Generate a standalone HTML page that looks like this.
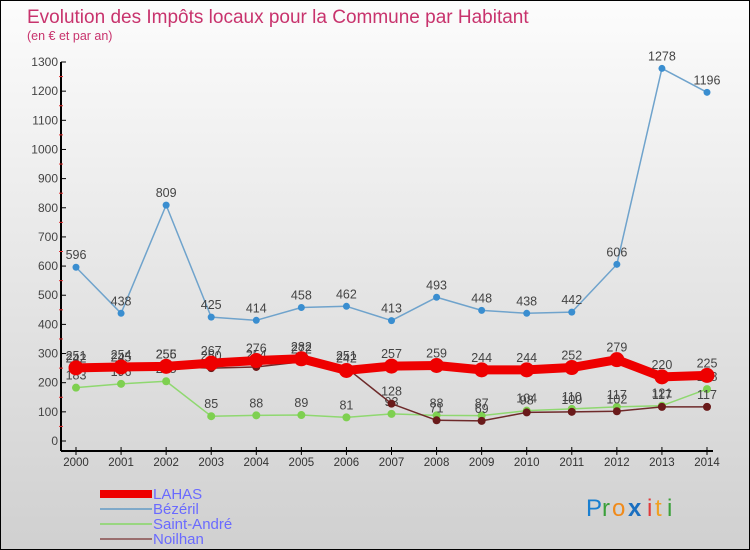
<!DOCTYPE html>
<html><head><meta charset="utf-8"><style>
body{margin:0;}
#wrap{position:relative;width:748px;height:548px;border:1px solid #000;background:linear-gradient(#fcfcfc,#d0d0d0);overflow:hidden;font-family:"Liberation Sans",sans-serif;}
svg text{font-family:"Liberation Sans",sans-serif;}
</style></head><body>
<div id="wrap">
<svg id="chart" width="748" height="548">
<text x="26" y="22" font-size="19" fill="#c8336d">Evolution des Impôts locaux pour la Commune par Habitant</text>
<text x="26" y="39" font-size="12.5" fill="#c8336d">(en € et par an)</text>
<g id="axes"></g><g id="series"></g>
<g>
<rect x="99" y="489" width="52" height="8" fill="#ee0000"/>
<text x="152" y="498" font-size="15" fill="#6a6aff">LAHAS</text>
<line x1="99" y1="508" x2="151" y2="508" stroke="#7fa9c9" stroke-width="2"/>
<text x="152" y="513" font-size="15" fill="#6a6aff">Bézéril</text>
<line x1="99" y1="523" x2="151" y2="523" stroke="#99d680" stroke-width="2"/>
<text x="152" y="528" font-size="15" fill="#6a6aff">Saint-André</text>
<line x1="99" y1="538" x2="151" y2="538" stroke="#9a6e6e" stroke-width="2"/>
<text x="152" y="543" font-size="15" fill="#6a6aff">Noilhan</text>
</g>
<g font-size="24">
<text x="585" y="515" fill="#1a7fd0">P</text><text x="601" y="515" fill="#3aa03a">r</text><text x="611" y="515" fill="#f08a1a">o</text><text x="627" y="515" fill="#1a6fc0" font-weight="bold">x</text><text x="646" y="515" fill="#e03a3a">i</text><text x="654" y="515" fill="#f0a020">t</text><text x="666" y="515" fill="#3aa03a">i</text>
</g>
</svg></div>
<script>
const years=[2000,2001,2002,2003,2004,2005,2006,2007,2008,2009,2010,2011,2012,2013,2014];
const yTicks=[0,100,200,300,400,500,600,700,800,900,1000,1100,1200,1300];
const lahas=[251,254,256,267,276,282,242,257,259,244,244,252,279,220,225];
const bezeril=[596,438,809,425,414,458,462,413,493,448,438,442,606,1278,1196];
const saintAndre=[183,196,205,85,88,89,81,93,88,87,104,110,117,121,178];
const noilhan=[242,245,255,250,254,272,251,128,71,69,98,100,102,117,117];
const NS="http://www.w3.org/2000/svg";
function xs(i){return 75+i*(706-75)/(years.length-1);}
function ys(v){return 440-v*(379/1300);}
function mk(t,a,p){const e=document.createElementNS(NS,t);for(const k in a)e.setAttribute(k,a[k]);p.appendChild(e);return e;}
const ax=document.getElementById('axes');
let l=mk('line',{x1:60,y1:ys(1300),x2:60,y2:450,stroke:'#000','stroke-width':2},ax);


l=mk('line',{x1:60,y1:450,x2:712,y2:450,stroke:'#000','stroke-width':2},ax);


yTicks.forEach((v,k)=>{
  mk('line',{x1:60,y1:ys(v),x2:65,y2:ys(v),stroke:'#000'},ax);
  if(k<yTicks.length-1) mk('line',{x1:58,y1:ys(v+50),x2:62,y2:ys(v+50),stroke:'#e03030'},ax);
  const t=mk('text',{x:57,y:ys(v)+4,'font-size':12,fill:'#444','text-anchor':'end'},ax);
  t.textContent=v;
  
  
});
years.forEach((y,i)=>{
  mk('line',{x1:xs(i),y1:446,x2:xs(i),y2:454,stroke:'#000'},ax);
  const t=mk('text',{x:xs(i),y:465,'font-size':11.5,fill:'#333','text-anchor':'middle'},ax);
  t.textContent=y;
  
  
});
const sg=document.getElementById('series');
function draw(name,data,color,w,r,dot){
  const g=mk('g',{},sg);
  
  
  const p=mk('polyline',{points:data.map((v,i)=>xs(i)+','+ys(v)).join(' '),fill:'none',stroke:color,'stroke-width':w,'stroke-linejoin':'round'},g);
  
  
  data.forEach((v,i)=>{
    const c=mk('circle',{cx:xs(i),cy:ys(v),r:r,fill:dot},g);
    
    
    const t=mk('text',{x:xs(i),y:ys(v)-8,'font-size':12.5,fill:'#444','text-anchor':'middle'},g);
    t.textContent=v;
    
    
  });
}
draw('bezeril',bezeril,'#6fa3cc',1.5,3.5,'#3a8ed0');
draw('saint-andre',saintAndre,'#8fd870',1.5,4,'#7ed050');
draw('noilhan',noilhan,'#6e2a2a',1.5,4,'#6a1a1a');
draw('lahas',lahas,'#ee0000',9,7.5,'#ee0000');
</script>
</body></html>
